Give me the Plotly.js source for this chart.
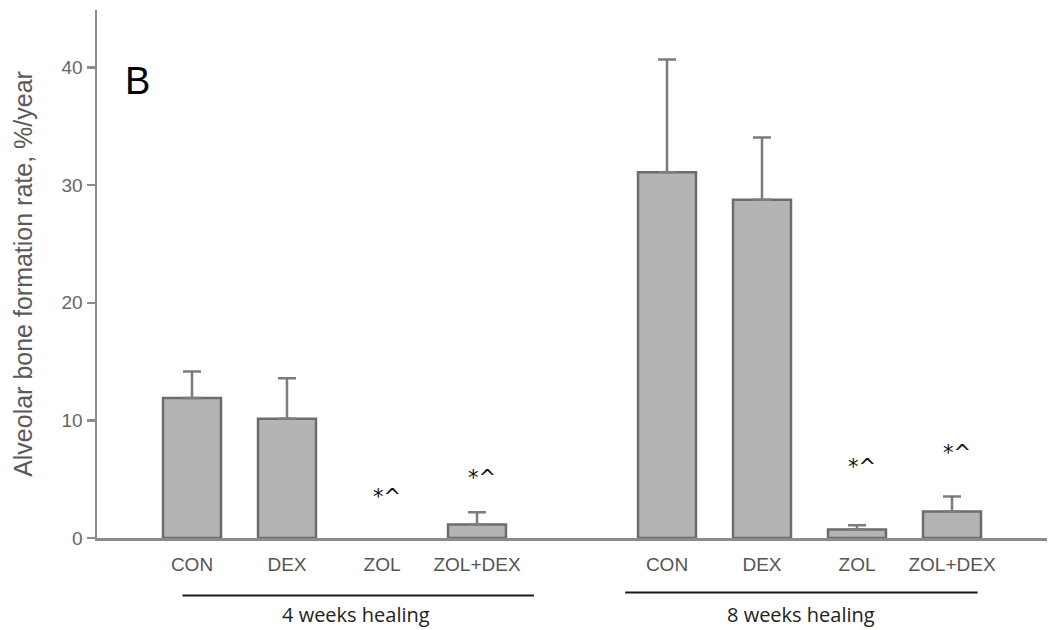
<!DOCTYPE html>
<html>
<head>
<meta charset="utf-8">
<script src="https://cdn.plot.ly/plotly-3.0.1.min.js"></script>
<style>html,body{margin:0;padding:0;background:#fff;}#chart{width:1050px;height:630px;}</style>
</head>
<body>
<div id="chart"></div>
<script>
// ---- data ----
const categories = ["CON", "DEX", "ZOL", "ZOL+DEX"];
const groups = ["4 weeks healing", "8 weeks healing"];
const week4Mean = [11.9, 10.15, 0, 1.15];
const week4Err  = [2.26, 3.43, 0, 1.05];
const week8Mean = [31.1, 28.76, 0.72, 2.25];
const week8Err  = [9.6, 5.29, 0.37, 1.28];
const sigLabels = ["", "", "*^", "*^"];
const sigHeight4 = [0, 0, 3.5, 5.1];
const sigHeight8 = [0, 0, 6.0, 7.2];
const yTicks = [0, 10, 20, 30, 40];
const panelLabel = "B";
const yTitle = "Alveolar bone formation rate, %/year";

// ---- build ----
const means = [week4Mean, week8Mean];
const errs = [week4Err, week8Err];
const sigH = [sigHeight4, sigHeight8];
const xs = [], ys = [], es = [], tv = [], tt = [];
const annotations = [];
groups.forEach((g, gi) => {
  categories.forEach((c, ci) => {
    const xpos = gi * 5 + ci + 1;
    const v = means[gi][ci];
    const e = errs[gi][ci];
    // a zero mean is drawn as no bar (as in the reference)
    xs.push(xpos); ys.push(v > 0 ? v : null); es.push(e > 0 ? e : null);
    tv.push(xpos); tt.push(c);
    if (sigLabels[ci]) {
      annotations.push({x: xpos + 0.05, y: sigH[gi][ci], xref: 'x', yref: 'y', text: sigLabels[ci],
        showarrow: false, font: {family: 'DejaVu Sans, sans-serif', size: 21, color: '#111'},
        xanchor: 'center', yanchor: 'middle'});
    }
  });
});

annotations.push({x: 0.43, y: 38.9, xref: 'x', yref: 'y', text: panelLabel, showarrow: false,
  font: {family: 'Liberation Sans, Arial, sans-serif', size: 38, color: '#000'}, xanchor: 'center', yanchor: 'middle'});
annotations.push({x: 2.73, y: -0.145, xref: 'x', yref: 'paper', text: groups[0], showarrow: false,
  font: {family: 'Open Sans, sans-serif', size: 20, color: '#222'}, xanchor: 'center', yanchor: 'middle', borderpad: 0});
annotations.push({x: 7.41, y: -0.145, xref: 'x', yref: 'paper', text: groups[1], showarrow: false,
  font: {family: 'Open Sans, sans-serif', size: 20, color: '#222'}, xanchor: 'center', yanchor: 'middle', borderpad: 0});

const trace = {
  type: 'bar', x: xs, y: ys, width: 0.61,
  marker: {color: '#b4b4b4', line: {color: '#6c6c6c', width: 2.5}},
  error_y: {type: 'data', array: es, visible: true, symmetric: false, arrayminus: es.map(() => 0),
    color: '#7c7c7c', thickness: 2.5, width: 9},
  hoverinfo: 'none'
};

const layout = {
  width: 1050, height: 630,
  margin: {l: 97, r: 3, t: 10, b: 92},
  paper_bgcolor: '#fff', plot_bgcolor: '#fff',
  showlegend: false,
  font: {family: 'Liberation Sans, Arial, sans-serif'},
  xaxis: {range: [0, 10], tickvals: tv, ticktext: tt, ticks: '', showgrid: false, zeroline: false,
    showline: true, linecolor: '#8c8c8c', linewidth: 2.5, ticklabelstandoff: 8,
    tickfont: {size: 19, color: '#555'}},
  yaxis: {range: [0, 44.9], tickvals: yTicks, ticks: 'outside', ticklen: 8, tickwidth: 2.5, tickcolor: '#8c8c8c',
    showgrid: false, zeroline: false, showline: true, linecolor: '#8c8c8c', linewidth: 2.5,
    tickfont: {size: 19, color: '#666'},
    title: {text: yTitle, font: {size: 25, color: '#5a5a5a'}, standoff: 22}},
  shapes: [
    {type: 'line', xref: 'x', yref: 'paper', x0: 0.9, x1: 4.6, y0: -0.109, y1: -0.109, line: {color: '#1a1a1a', width: 2}},
    {type: 'line', xref: 'x', yref: 'paper', x0: 5.56, x1: 9.27, y0: -0.103, y1: -0.103, line: {color: '#1a1a1a', width: 2}}
  ],
  annotations: annotations
};

Plotly.newPlot('chart', [trace], layout, {displayModeBar: false, staticPlot: true});
</script>
</body>
</html>
